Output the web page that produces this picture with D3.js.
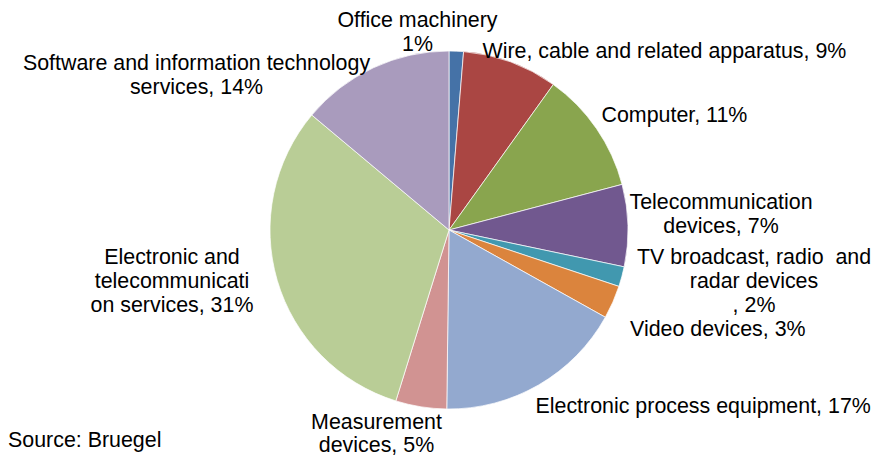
<!DOCTYPE html>
<html>
<head>
<meta charset="utf-8">
<script src="https://cdn.jsdelivr.net/npm/d3@7"></script>
<style>
  html, body { margin: 0; padding: 0; background: #fff; }
  svg { display: block; }
  text { font-family: "Liberation Sans", Arial, sans-serif; font-size: 21.4px; fill: #000; white-space: pre; }
</style>
</head>
<body>
<svg id="chart" width="873" height="457"></svg>
<script>
// ---- data ----
const categories = [
  "Office machinery",
  "Wire, cable and related apparatus",
  "Computer",
  "Telecommunication devices",
  "TV broadcast, radio and radar devices",
  "Video devices",
  "Electronic process equipment",
  "Measurement devices",
  "Electronic and telecommunication services",
  "Software and information technology services"
];
const shares = [1.3, 8.6, 11.0, 7.4, 1.8, 3.0, 17.1, 4.6, 31.3, 13.9];
const labelLines = [
  ["Office machinery", "1%"],
  ["Wire, cable and related apparatus, 9%"],
  ["Computer, 11%"],
  ["Telecommunication", "devices, 7%"],
  ["TV broadcast, radio  and", "radar devices", ", 2%"],
  ["Video devices, 3%"],
  ["Electronic process equipment, 17%"],
  ["Measurement", "devices, 5%"],
  ["Electronic and", "telecommunicati", "on services, 31%"],
  ["Software and information technology", "services, 14%"]
];
const sourceNote = "Source: Bruegel";

// ---- styles / layout ----
const colors = ["#4572A7", "#AA4643", "#89A54E", "#71588F", "#4198AF",
                "#DB843D", "#93A9CF", "#D19392", "#B9CD96", "#A99BBD"];
const labelLayout = [
  { x: 417.5, y: 26.7, anchor: "middle", lh: 24 },
  { x: 482.5, y: 58.3, anchor: "start",  lh: 24 },
  { x: 601.5, y: 121.7, anchor: "start", lh: 24 },
  { x: 721,   y: 209.3, anchor: "middle", lh: 24 },
  { x: 754,   y: 264,   anchor: "middle", lh: 24 },
  { x: 630,   y: 335.7, anchor: "start",  lh: 24 },
  { x: 535.5, y: 412.7, anchor: "start",  lh: 24 },
  { x: 376.5, y: 429,   anchor: "middle", lh: 23 },
  { x: 172,   y: 264.3, anchor: "middle", lh: 24 },
  { x: 196.5, y: 70,    anchor: "middle", lh: 24 }
];
const cx = 449, cy = 230, radius = 179;

const svg = d3.select("#chart");

const pie = d3.pie().sort(null).value(d => d)(shares);
const arc = d3.arc().innerRadius(0).outerRadius(radius);
const color = d3.scaleOrdinal().domain(d3.range(categories.length)).range(colors);

svg.append("g")
  .attr("transform", `translate(${cx},${cy})`)
  .selectAll("path")
  .data(pie)
  .join("path")
  .attr("d", arc)
  .attr("fill", (d, i) => color(i))
  .attr("stroke", "#ffffff")
  .attr("stroke-width", 0.7)
  .attr("stroke-linejoin", "round");

const labels = svg.append("g")
  .selectAll("text")
  .data(categories)
  .join("text")
  .attr("text-anchor", (d, i) => labelLayout[i].anchor)
  .attr("x", (d, i) => labelLayout[i].x)
  .attr("y", (d, i) => labelLayout[i].y);

labels.each(function(d, i) {
  const t = d3.select(this);
  const L = labelLayout[i];
  labelLines[i].forEach((line, j) => {
    t.append("tspan")
      .attr("x", L.x)
      .attr("y", L.y + j * L.lh)
      .text(line);
  });
});

svg.append("text")
  .attr("x", 8)
  .attr("y", 446.7)
  .text(sourceNote);
</script>
</body>
</html>
